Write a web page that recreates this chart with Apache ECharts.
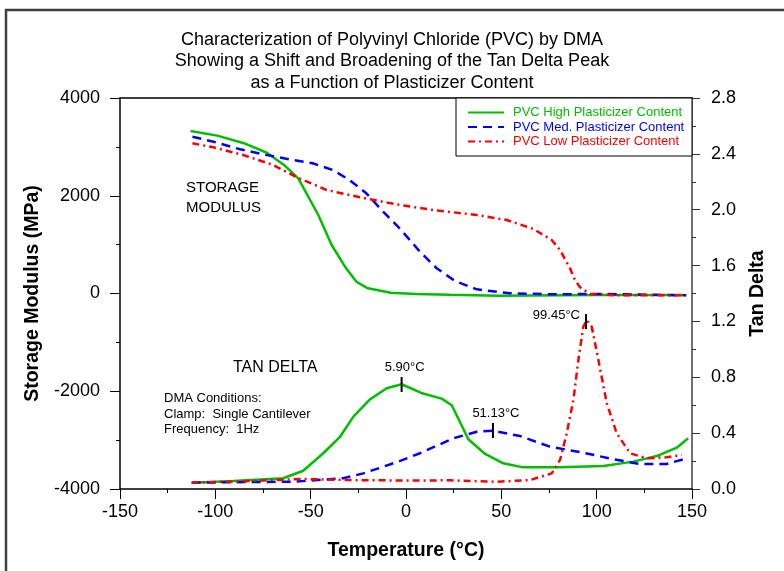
<!DOCTYPE html>
<html>
<head>
<meta charset="utf-8">
<script src="https://cdn.jsdelivr.net/npm/echarts@6/dist/echarts.min.js"></script>
<style>
  html, body { margin: 0; padding: 0; background: #fff; }
  #chart { width: 784px; height: 571px; }
</style>
</head>
<body>
<div id="chart"></div>
<script>
// storage modulus (MPa) vs temperature (°C)
const highModT = [-113, -99, -85, -73, -64, -56.5, -46, -39, -32, -26, -20, -8, 5, 23, 49, 100, 146];
const highModV = [3325, 3230, 3075, 2880, 2630, 2357, 1606, 992, 549, 241, 106, 16, -10, -25, -45, -31, -32];
const medModT = [-112, -101, -87, -73, -61, -49, -38.4, -29.6, -20.8, -12, -3, 7.3, 16.1, 25.7, 37.1, 54.5, 75.5, 101.7, 147];
const medModV = [3208, 3106, 2950, 2834, 2745, 2664, 2527, 2322, 2050, 1674, 1320, 855, 516, 256, 86, 4, -16, -10, -37];
const lowModT = [-112, -101, -85.3, -69.6, -57.3, -41.6, -24.1, -3.1, 14.3, 37.1, 52.8, 66.8, 76.4, 80.8, 86, 88.6, 91.3, 96.5, 110.5, 147];
const lowModV = [3073, 2991, 2834, 2629, 2377, 2118, 1968, 1811, 1708, 1606, 1504, 1320, 1095, 890, 516, 276, 127, -10, -37, -37];

// tan delta vs temperature (°C)
const highTanT = [-112.4, -90.6, -64.4, -53.9, -43.4, -34.6, -27.6, -18.9, -10.1, -2.3, 8, 18.7, 24, 32.7, 41.5, 51, 61.5, 80.8, 103.5, 119.2, 131.5, 142, 148];
const highTanV = [0.045, 0.057, 0.077, 0.131, 0.256, 0.374, 0.518, 0.642, 0.721, 0.75, 0.688, 0.647, 0.6, 0.356, 0.251, 0.184, 0.155, 0.155, 0.165, 0.196, 0.236, 0.296, 0.363];
const medTanT = [-112.4, -81.8, -59.1, -32.9, -22.4, -4.9, 7.3, 24.8, 37.1, 45.9, 59.8, 75.5, 93, 108.7, 122.7, 136.7, 145.5];
const medTanV = [0.045, 0.05, 0.052, 0.077, 0.112, 0.192, 0.256, 0.363, 0.41, 0.417, 0.379, 0.303, 0.26, 0.213, 0.179, 0.179, 0.213];
const lowTanT = [-112.4, -81.8, -55.6, -29.4, -3.1, 23.1, 47.6, 65, 76.4, 80.8, 84.3, 87.8, 90.4, 93, 94.8, 97.4, 100.9, 105.3, 110.5, 117.5, 126.2, 136.7, 144.6];
const lowTanV = [0.045, 0.057, 0.072, 0.064, 0.061, 0.062, 0.052, 0.064, 0.112, 0.208, 0.399, 0.637, 0.924, 1.162, 1.21, 1.162, 0.924, 0.614, 0.399, 0.256, 0.22, 0.227, 0.243];

// tan delta peak markers [temperature, tan delta, label]
const highPeak = [-2.3, 0.748, '5.90°C'];
const medPeak = [45.6, 0.419, '51.13°C'];
const lowPeak = [94.4, 1.199, '99.45°C'];

const seriesNames = ['PVC High Plasticizer Content', 'PVC Med. Plasticizer Content', 'PVC Low Plasticizer Content'];
const colors = ['#00c000', '#0000ff', '#ff0000'];
const dashes = ['solid', [9, 6], [7, 4, 2, 4]];

const xTicks = [-150, 150, 50];
const modTicks = [-4000, 4000, 2000];
const tanTicks = [0, 2.8, 0.4];

const FONT = '"Liberation Sans", Arial, sans-serif';
const zip = (a, b) => a.map((v, i) => [v, b[i]]);

function peakMark(p, labelPos) {
  const label = { show: true, formatter: p[2], color: '#000', fontSize: 13, fontFamily: FONT };
  if (labelPos === 'left') {
    label.position = 'left';
    label.distance = 5;
    label.offset = [0, -6];
  } else {
    label.position = 'top';
    label.distance = 3;
    label.offset = [3, 0];
  }
  return {
    symbol: 'rect',
    symbolSize: [2, 15],
    itemStyle: { color: '#000' },
    data: [{ coord: [p[0], p[1]], label: label }]
  };
}

function line(i, data, yIdx, mark) {
  const s = {
    name: seriesNames[i],
    type: 'line',
    yAxisIndex: yIdx,
    data: data,
    symbol: 'none',
    z: 2 + i,
    lineStyle: { color: colors[i], width: 2.5, type: dashes[i] },
    itemStyle: { color: colors[i] },
    animation: false
  };
  if (mark) s.markPoint = mark;
  return s;
}

const chart = echarts.init(document.getElementById('chart'));

const axisCommon = {
  axisLine: { show: true, onZero: false, lineStyle: { color: '#000', width: 1.5 } },
  axisTick: { show: true, length: 10, lineStyle: { color: '#000', width: 1 } },
  minorTick: { show: true, splitNumber: 2, length: 4, lineStyle: { color: '#000', width: 1 } },
  splitLine: { show: false },
  axisLabel: { color: '#000', fontSize: 18, fontFamily: FONT, formatter: v => String(v) },
  nameTextStyle: { color: '#000', fontSize: 19.5, fontWeight: 'bold', fontFamily: FONT }
};

chart.setOption({
  backgroundColor: '#fff',
  animation: false,
  textStyle: { fontFamily: FONT },
  title: {
    text: 'Characterization of Polyvinyl Chloride (PVC) by DMA\nShowing a Shift and Broadening of the Tan Delta Peak\nas a Function of Plasticizer Content',
    left: 'center',
    top: 29,
    padding: 0,
    textStyle: { fontSize: 18, fontWeight: 'normal', color: '#000', lineHeight: 21.5, fontFamily: FONT }
  },
  grid: { left: 120, right: 92, top: 98, bottom: 82 },
  legend: {
    orient: 'vertical',
    left: 467,
    top: 106,
    padding: 0,
    itemWidth: 36,
    itemHeight: 14,
    itemGap: 1.5,
    itemStyle: { opacity: 0 },
    data: seriesNames.map((n, i) => ({ name: n, textStyle: { color: colors[i] } })),
    textStyle: { fontSize: 13, fontFamily: FONT, padding: [0, 0, 0, 4] },
    selectedMode: false
  },
  xAxis: [
    Object.assign({}, axisCommon, {
      type: 'value',
      min: xTicks[0], max: xTicks[1], interval: xTicks[2],
      name: 'Temperature (°C)',
      nameLocation: 'middle',
      nameGap: 52,
      axisLabel: Object.assign({}, axisCommon.axisLabel, { margin: 14 })
    }),
    {
      type: 'value',
      position: 'top',
      min: xTicks[0], max: xTicks[1], interval: xTicks[2],
      axisLine: { show: true, onZero: false, lineStyle: { color: '#000', width: 1.5 } },
      axisTick: { show: false },
      axisLabel: { show: false },
      splitLine: { show: false }
    }
  ],
  yAxis: [
    Object.assign({}, axisCommon, {
      type: 'value',
      min: modTicks[0], max: modTicks[1], interval: modTicks[2],
      name: 'Storage Modulus (MPa)',
      nameLocation: 'middle',
      nameGap: 73,
      axisLabel: Object.assign({}, axisCommon.axisLabel, { margin: 20 })
    }),
    Object.assign({}, axisCommon, {
      type: 'value',
      position: 'right',
      min: tanTicks[0], max: tanTicks[1], interval: tanTicks[2],
      name: 'Tan Delta',
      nameLocation: 'middle',
      nameGap: 56,
      axisLine: { show: true, onZero: false, lineStyle: { color: '#707070', width: 2 } },
      axisTick: { show: true, length: 8, lineStyle: { color: '#333', width: 1 } },
      minorTick: { show: true, splitNumber: 2, length: 4, lineStyle: { color: '#333', width: 1 } },
      axisLabel: Object.assign({}, axisCommon.axisLabel, { margin: 19, formatter: v => v.toFixed(1) })
    })
  ],
  series: [
    line(0, zip(highModT, highModV), 0),
    line(1, zip(medModT, medModV), 0),
    line(2, zip(lowModT, lowModV), 0),
    line(0, zip(highTanT, highTanV), 1, peakMark(highPeak, 'top')),
    line(1, zip(medTanT, medTanV), 1, peakMark(medPeak, 'top')),
    line(2, zip(lowTanT, lowTanV), 1, peakMark(lowPeak, 'left'))
  ],
  graphic: [
    { type: 'rect', shape: { x: 6, y: 10, width: 820, height: 620 }, style: { fill: 'none', stroke: '#404040', lineWidth: 2.5 }, silent: true },
    { type: 'rect', shape: { x: 456, y: 98, width: 236, height: 58 }, style: { fill: '#fff', stroke: '#000', lineWidth: 1 }, z: 1, silent: true },
    { type: 'text', left: 186, top: 178, style: { text: 'STORAGE\nMODULUS', fontSize: 15, lineHeight: 20, fill: '#000', fontFamily: FONT } },
    { type: 'text', left: 233, top: 360, style: { text: 'TAN DELTA', fontSize: 16, fill: '#000', fontFamily: FONT } },
    { type: 'text', left: 164, top: 391, style: { text: 'DMA Conditions:\nClamp:  Single Cantilever\nFrequency:  1Hz', fontSize: 13, lineHeight: 15.5, fill: '#000', fontFamily: FONT } }
  ]
});
</script>
</body>
</html>
